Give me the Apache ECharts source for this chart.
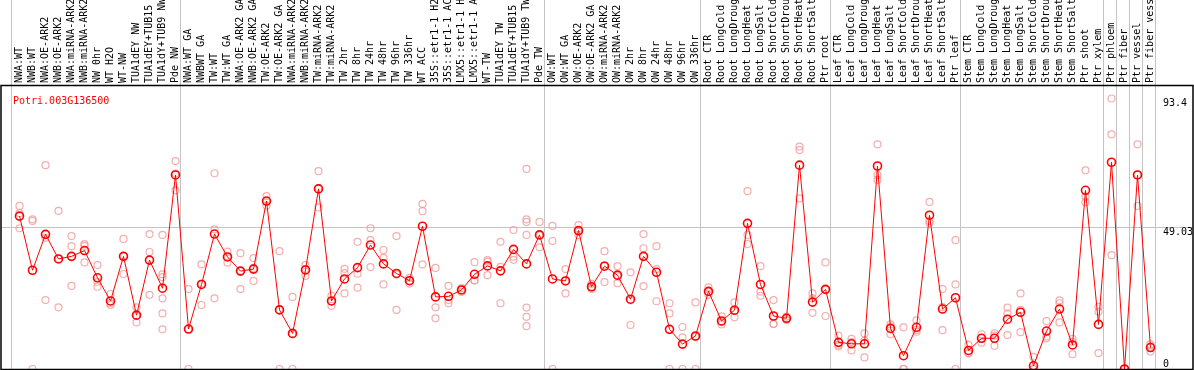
<!DOCTYPE html>
<html><head><meta charset="utf-8">
<script src="https://cdn.jsdelivr.net/npm/echarts@6/dist/echarts.min.js"></script>
<style>html,body{margin:0;padding:0;background:#fff}#c{width:1194px;height:370px}</style>
</head><body><div id="c"></div>
<script>
const title = 'Potri.003G136500';
const categories = [
  'NWA:WT','NWB:WT','NWA:OE-ARK2','NWB:OE-ARK2','NWA:miRNA-ARK2','NWB:miRNA-ARK2','NW 0hr','WT H2O','WT-NW','TUA1dEY NW','TUA1dEY+TUB15 NW','TUA1dY+TUB9 NW','Pde NW',
  'NWA:WT GA','NWBWT GA','TW:WT','TW:WT GA','NWA:OE-ARK2 GA','NWB:OE-ARK2 GA','TW:OE-ARK2','TW:OE-ARK2 GA','NWA:miRNA-ARK2','NWB:miRNA-ARK2','TW:miRNA-ARK2','TW:miRNA-ARK2',
  'TW 2hr','TW 8hr','TW 24hr','TW 48hr','TW 96hr','TW 336hr','WT ACC','35S::etr1-1 H2O','35S::etr1-1 ACC','LMX5::etr1-1 H2O','LMX5::etr1-1 ACC','WT-TW','TUA1dEY TW','TUA1dEY+TUB15 TW','TUA1dY+TUB9 TW','Pde TW',
  'OW:WT','OW:WT GA','OW:OE-ARK2','OW:OE-ARK2 GA','OW:miRNA-ARK2','OW:miRNA-ARK2','OW 2hr','OW 8hr','OW 24hr','OW 48hr','OW 96hr','OW 336hr',
  'Root CTR','Root LongCold','Root LongDrought','Root LongHeat','Root LongSalt','Root ShortCold','Root ShortDrought','Root ShortHeat','Root ShortSalt','Ptr root',
  'Leaf CTR','Leaf LongCold','Leaf LongDrought','Leaf LongHeat','Leaf LongSalt','Leaf ShortCold','Leaf ShortDrought','Leaf ShortHeat','Leaf ShortSalt','Ptr leaf',
  'Stem CTR','Stem LongCold','Stem LongDrought','Stem LongHeat','Stem LongSalt','Stem ShortCold','Stem ShortDrought','Stem ShortHeat','Stem ShortSalt','Ptr shoot','Ptr xylem',
  'Ptr phloem','Ptr fiber','Ptr vessel','Ptr fiber vessel'
];
const means = [
  52.8, 34.1, 46.5, 38.0, 38.9, 40.9, 31.5, 23.5, 38.9, 18.6, 37.6, 27.9, 67.0,
  13.8, 29.2, 46.6, 38.7, 33.8, 34.5, 58.0, 20.4, 12.3, 34.2, 62.2, 23.5, 31.1, 35.0, 42.8, 36.3, 33.0, 30.5, 49.3, 24.9, 25.1, 27.3, 32.7, 35.6, 33.9, 41.3, 36.3, 46.3,
  31.1, 30.4, 47.8, 28.4, 35.5, 32.4, 24.1, 38.9, 33.4, 13.7, 8.6, 11.4,
  26.8, 16.6, 20.3, 50.3, 29.2, 18.3, 17.5, 70.4, 23.1, 27.5,
  9.2, 8.7, 8.7, 70.1, 14.0, 4.6, 14.4, 53.1, 20.7, 24.6,
  6.4, 10.6, 10.6, 17.2, 19.6, 1.1, 13.1, 20.7, 8.3, 61.7, 15.4,
  71.4, 0, 67.0, 7.4
];
const replicates = [
  [56.3,53.8,48.6],[51.7,51.1,0],[70.4,45.3,23.8],[54.6,38.1,21.3],[45.9,42.4,28.7],[43.1,42.5,36.8],[35.9,30.1,28.4],[25.9,22.7,22.1],[44.9,39.0,32.8],[21.3,18.4,16.1],[46.6,40.4,25.6],[46.3,32.7,31.7,24.4,19.2,13.7],[71.8,67.5,61.7],
  [27.6,13.8,0],[36.1,29.5,22.1],[67.6,48.2,24.4],[40.5,38.8,36.7],[40.0,33.9,27.6],[38.3,34.9,30.4],[59.7,57.9,56.4],[40.7,20.5,0],[24.9,12.0,0],[35.9,34.6,32.1],[68.3,62.5,55.8],[25.3,23.4,21.8],
  [34.6,33.1,26.1],[43.9,32.9,28.1],[48.6,44.5,35.2],[41.1,38.4,29.2],[45.9,32.7,20.4],[31.5,30.5,29.5],[57.0,54.5,36.1],[34.9,21.3,17.5],[28.7,23.8,22.7],[27.9,27.3,26.6],[36.9,30.6,30.6],[37.6,37.1,32.4],[43.9,35.3,22.7],[48.0,38.8,37.7],[69.1,51.7,50.8,46.3,21.2,18.0,14.8],[50.8,46.1,42.0],
  [49.4,44.2,0],[34.5,30.5,26.1],[49.7,47.4,46.3],[29.4,28.2,27.6],[40.7,35.8,30.0],[35.5,32.1,29.6],[33.4,23.7,15.2],[46.6,41.7,28.6],[42.4,34.5,23.4],[22.7,19.2,0],[14.5,10.9,0],[23.0,11.2,0],
  [28.2,26.6,25.6],[18.2,16.2,15.4],[23.0,20.0,17.9],[61.4,46.3,43.2],[35.5,26.7,25.3],[23.8,15.6,15.5],[18.1,17.5,16.9],[76.8,75.6,58.9],[26.1,24.4,19.4],[36.8,27.4,18.3],
  [11.5,8.3,7.8],[10.4,9.3,6.4],[12.3,9.8,4.0],[77.6,67.0,65.3],[15.4,14.6,12.0],[14.4,0,0],[16.8,13.5,12.9],[57.7,51.1,50.5],[27.6,21.4,13.4],[44.5,29.2,0],
  [8.3,5.5,5.4],[12.0,10.7,9.1],[12.3,11.5,8.0],[21.2,19.1,11.7],[26.1,20.4,12.7],[4.2,0,0],[16.5,11.2,10.6],[23.7,22.7,16.1],[10.4,9.4,5.1],[68.6,59.5,57.6],[21.5,19.8,5.5],
  [93.4,81.0,39.3],[0,0,0],[77.6,67.1,56.3],[8.5,7.7,6.0]
];
const yTickValues = [0, 49.03, 93.4];
const yMax = 98.07;
const gridLineValue = 49.03;
const groupEnds = [-1, 12, 40, 52, 62, 72, 83, 84, 85, 86, 87];

const scatterData = [];
replicates.forEach((arr, i) => arr.forEach(v => scatterData.push([i, v])));

const FONT = 'DejaVu Sans Mono';
const chart = echarts.init(document.getElementById('c'), null, {renderer: 'canvas'});
const yAxisBase = {
  type: 'value', min: 0, max: yMax, position: 'right',
  axisLine: {show: false}, axisTick: {show: false}, splitLine: {show: false}
};
chart.setOption({
  animation: false,
  title: {text: title, left: 8, top: 91, textStyle: {color: '#ff0000', fontSize: 10, fontWeight: 'normal', fontFamily: FONT}},
  grid: {left: 13, width: 1144, top: 85, height: 284, outerBoundsMode: 'none', containLabel: false},
  xAxis: {
    type: 'category', data: categories, position: 'top', boundaryGap: true,
    axisLine: {show: false}, axisTick: {show: false}, splitLine: {show: false},
    axisLabel: {interval: 0, rotate: 90, margin: 2, fontSize: 10, fontFamily: FONT, color: '#000'}
  },
  yAxis: [
    Object.assign({}, yAxisBase, {axisLabel: {customValues: yTickValues.filter(v => v > 0), margin: 6, verticalAlign: 'top', fontSize: 10, fontFamily: FONT, color: '#000'}}),
    Object.assign({}, yAxisBase, {axisLabel: {customValues: yTickValues.filter(v => v === 0), margin: 6, verticalAlign: 'bottom', fontSize: 10, fontFamily: FONT, color: '#000'}})
  ],
  series: [
    {
      type: 'scatter', data: scatterData, symbol: 'circle', symbolSize: 7, z: 3,
      itemStyle: {color: 'rgba(0,0,0,0)', borderColor: '#f09a9a', borderWidth: 1.2},
      emphasis: {disabled: true}
    },
    {
      type: 'line', data: means, symbol: 'circle', symbolSize: 8, z: 4,
      lineStyle: {color: '#ff0000', width: 1},
      itemStyle: {color: 'rgba(0,0,0,0)', borderColor: '#ff0000', borderWidth: 1.6},
      emphasis: {disabled: true}
    }
  ]
});

const x0 = chart.convertToPixel({xAxisIndex: 0}, 0);
const x1 = chart.convertToPixel({xAxisIndex: 0}, 1);
const bw = x1 - x0;
const yG = Math.round(chart.convertToPixel({yAxisIndex: 0}, gridLineValue)) + 0.5;
const yTop = chart.convertToPixel({yAxisIndex: 0}, yMax);
const yBot = chart.convertToPixel({yAxisIndex: 0}, 0);
const graphics = [];
groupEnds.forEach(k => {
  const x = Math.round(x0 + (k + 0.35) * bw) + 0.5;
  graphics.push({type: 'line', z: 0, silent: true, shape: {x1: x, y1: 0, x2: x, y2: 370}, style: {stroke: '#c4c4c4', lineWidth: 1}});
});
graphics.push({type: 'line', z: 0, silent: true, shape: {x1: 1, y1: yG, x2: 1193, y2: yG}, style: {stroke: '#c4c4c4', lineWidth: 1}});
graphics.push({type: 'rect', z: 10, silent: true, shape: {x: 1, y: Math.round(yTop) + 0.5, width: 1192, height: Math.round(yBot - yTop)}, style: {fill: null, stroke: '#000', lineWidth: 1.5}});
chart.setOption({graphic: graphics});
</script>
</body></html>
